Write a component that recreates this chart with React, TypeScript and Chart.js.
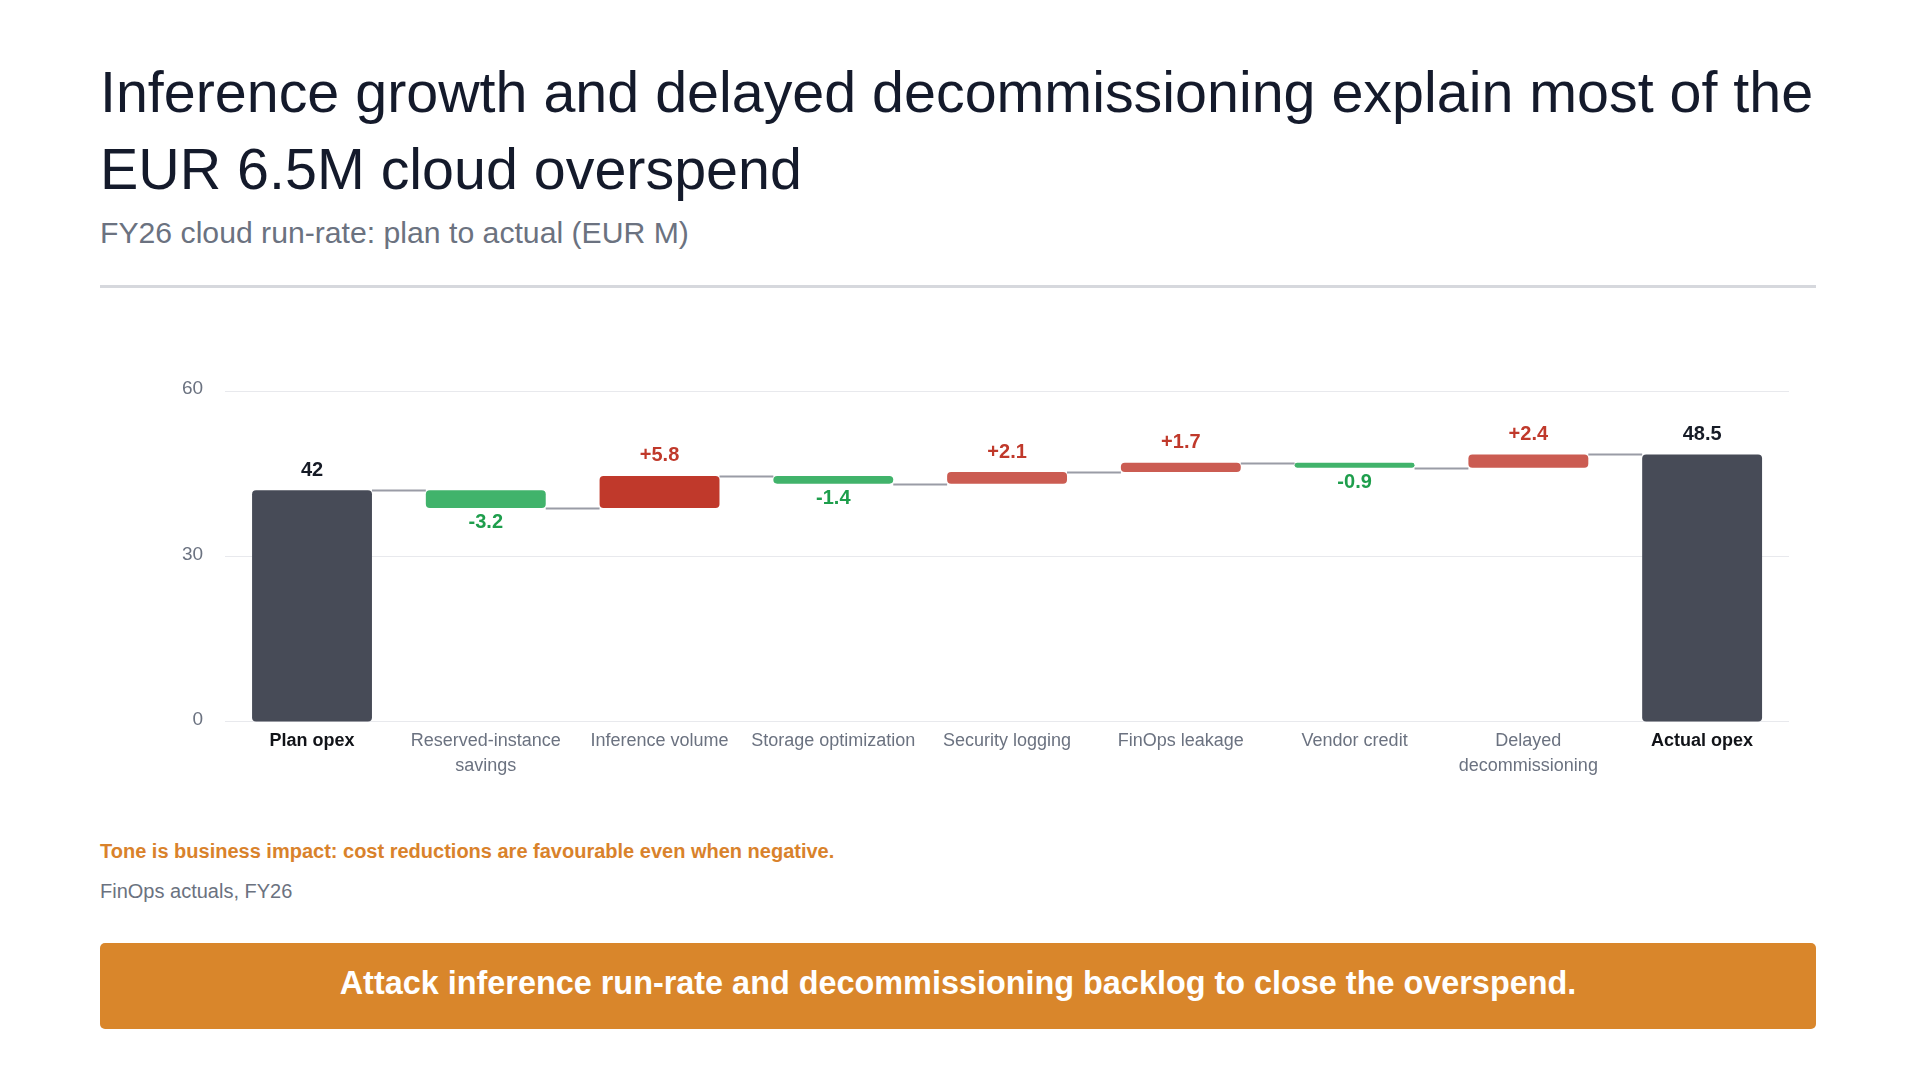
import React, { useEffect, useRef } from "react";
import { Chart, registerables } from "chart.js";

Chart.register(...registerables);

const FONT = "'Liberation Sans', Arial, Helvetica, sans-serif";

// ---- data ----
const categories: string[][] = [
  ["Plan opex"],
  ["Reserved-instance", "savings"],
  ["Inference volume"],
  ["Storage optimization"],
  ["Security logging"],
  ["FinOps leakage"],
  ["Vendor credit"],
  ["Delayed", "decommissioning"],
  ["Actual opex"],
];
const stepKinds = ["total", "delta", "delta", "delta", "delta", "delta", "delta", "delta", "total"];
const stepValues = [42, -3.2, 5.8, -1.4, 2.1, 1.7, -0.9, 2.4, 48.5];
const yTickValues = [0, 30, 60];

const title = "Inference growth and delayed decommissioning explain most of the EUR 6.5M cloud overspend";
const subtitle = "FY26 cloud run-rate: plan to actual (EUR M)";
const note = "Tone is business impact: cost reductions are favourable even when negative.";
const source = "FinOps actuals, FY26";
const banner = "Attack inference run-rate and decommissioning backlog to close the overspend.";

// ---- colours ----
const C_TOTAL = "#474b57";
const C_GOOD = "#41b36b";
const C_BAD_STRONG = "#c0392b";
const C_BAD = "#cb5c52";
const C_GOOD_TEXT = "#1e9e4c";
const C_BAD_TEXT = "#c0392b";
const C_TOTAL_TEXT = "#161b26";

function buildRanges() {
  const ranges: [number, number][] = [];
  const ends: number[] = [];
  let run = 0;
  stepValues.forEach((v, i) => {
    if (stepKinds[i] === "total") {
      ranges.push([0, v]);
      run = v;
    } else {
      const next = Math.round((run + v) * 100) / 100;
      ranges.push([run, next]);
      run = next;
    }
    ends.push(run);
  });
  return { ranges, ends };
}

export default function App() {
  const canvasRef = useRef<HTMLCanvasElement | null>(null);

  useEffect(() => {
    const canvas = canvasRef.current;
    if (!canvas) return;
    const { ranges, ends } = buildRanges();
    const maxUp = Math.max(...stepValues.filter((v, i) => stepKinds[i] === "delta"));
    const colors = stepValues.map((v, i) =>
      stepKinds[i] === "total" ? C_TOTAL : v < 0 ? C_GOOD : v === maxUp ? C_BAD_STRONG : C_BAD
    );

    const waterfallPlugin = {
      id: "waterfallDecor",
      afterDatasetsDraw(chart: any) {
        const ctx = chart.ctx;
        const meta = chart.getDatasetMeta(0);
        const y = chart.scales.y;
        ctx.save();
        ctx.strokeStyle = "#9a9ca6";
        ctx.lineWidth = 2;
        for (let i = 0; i < meta.data.length - 1; i++) {
          const b = meta.data[i];
          const n = meta.data[i + 1];
          const yy = Math.round(y.getPixelForValue(ends[i])) + 0.5;
          ctx.beginPath();
          ctx.moveTo(b.x + b.width / 2, yy);
          ctx.lineTo(n.x - n.width / 2, yy);
          ctx.stroke();
        }
        ctx.font = `bold 20px ${FONT}`;
        ctx.textAlign = "center";
        ctx.textBaseline = "middle";
        stepValues.forEach((v, i) => {
          const b = meta.data[i];
          const [a, e] = ranges[i];
          const topV = Math.max(a, e);
          const botV = Math.min(a, e);
          let text: string;
          let color: string;
          let yy: number;
          if (stepKinds[i] === "total") {
            text = String(v);
            color = C_TOTAL_TEXT;
            yy = y.getPixelForValue(topV) - 20;
          } else if (v > 0) {
            text = "+" + v.toFixed(1);
            color = C_BAD_TEXT;
            yy = y.getPixelForValue(topV) - 20;
          } else {
            text = v.toFixed(1);
            color = C_GOOD_TEXT;
            yy = y.getPixelForValue(botV) + 15;
          }
          ctx.fillStyle = color;
          ctx.fillText(text, b.x, yy);
        });
        ctx.restore();
      },
    };

    const chart = new Chart(canvas, {
      type: "bar",
      data: {
        labels: categories as any,
        datasets: [
          {
            data: ranges as any,
            backgroundColor: colors,
            borderRadius: 4,
            borderSkipped: false,
            barPercentage: 0.69,
            categoryPercentage: 1,
          },
        ],
      },
      options: {
        animation: false,
        responsive: false,
        maintainAspectRatio: false,
        layout: { padding: { top: 91, left: 60, right: 27, bottom: 15 } },
        plugins: { legend: { display: false }, tooltip: { enabled: false } },
        scales: {
          x: {
            grid: { display: false, drawTicks: false },
            border: { display: false },
            ticks: {
              padding: 6,
              maxRotation: 0,
              autoSkip: false,
              color: (c: any) => (stepKinds[c.index] === "total" ? "#111318" : "#6b7280"),
              font: (c: any) => ({
                family: FONT,
                size: 18,
                lineHeight: 1.42,
                weight: stepKinds[c.index] === "total" ? "bold" : "normal",
              }),
            },
          },
          y: {
            min: yTickValues[0],
            max: yTickValues[yTickValues.length - 1],
            afterBuildTicks: (axis: any) => {
              axis.ticks = yTickValues.map((v) => ({ value: v }));
            },
            grid: { color: "#e8e9ed", drawTicks: false, lineWidth: 1 },
            border: { display: false },
            ticks: {
              padding: 22,
              labelOffset: -2,
              color: "#6b7280",
              font: { family: FONT, size: 19 },
            },
          },
        },
      },
      plugins: [waterfallPlugin],
    });
    return () => chart.destroy();
  }, []);

  return (
    <div
      style={{
        position: "absolute",
        left: 0,
        top: 0,
        width: 1919,
        height: 1080,
        background: "#ffffff",
        fontFamily: FONT,
        overflow: "hidden",
      }}
    >
      <div
        style={{
          position: "absolute",
          left: 100,
          top: 54,
          width: 1760,
          fontSize: 57.4,
          lineHeight: "77px",
          color: "#141a2b",
        }}
      >
        {title}
      </div>
      <div
        style={{
          position: "absolute",
          left: 100,
          top: 215,
          width: 1716,
          fontSize: 30.2,
          lineHeight: "36px",
          color: "#6b7280",
        }}
      >
        {subtitle}
      </div>
      <div
        style={{
          position: "absolute",
          left: 100,
          top: 285,
          width: 1716,
          height: 2.5,
          background: "#d6d8dd",
        }}
      />
      <canvas
        ref={canvasRef}
        width={1716}
        height={500}
        style={{ position: "absolute", left: 100, top: 300, width: 1716, height: 500 }}
      />
      <div
        style={{
          position: "absolute",
          left: 100,
          top: 840,
          fontSize: 20,
          lineHeight: "22px",
          fontWeight: "bold",
          color: "#d9822b",
        }}
      >
        {note}
      </div>
      <div
        style={{
          position: "absolute",
          left: 100,
          top: 880,
          fontSize: 20,
          lineHeight: "22px",
          color: "#6b7280",
        }}
      >
        {source}
      </div>
      <div
        style={{
          position: "absolute",
          left: 100,
          top: 943,
          width: 1716,
          height: 86,
          boxSizing: "border-box",
          paddingBottom: 6,
          borderRadius: 5,
          background: "#d9862b",
          color: "#ffffff",
          fontWeight: "bold",
          fontSize: 32.4,
          display: "flex",
          alignItems: "center",
          justifyContent: "center",
        }}
      >
        {banner}
      </div>
    </div>
  );
}
